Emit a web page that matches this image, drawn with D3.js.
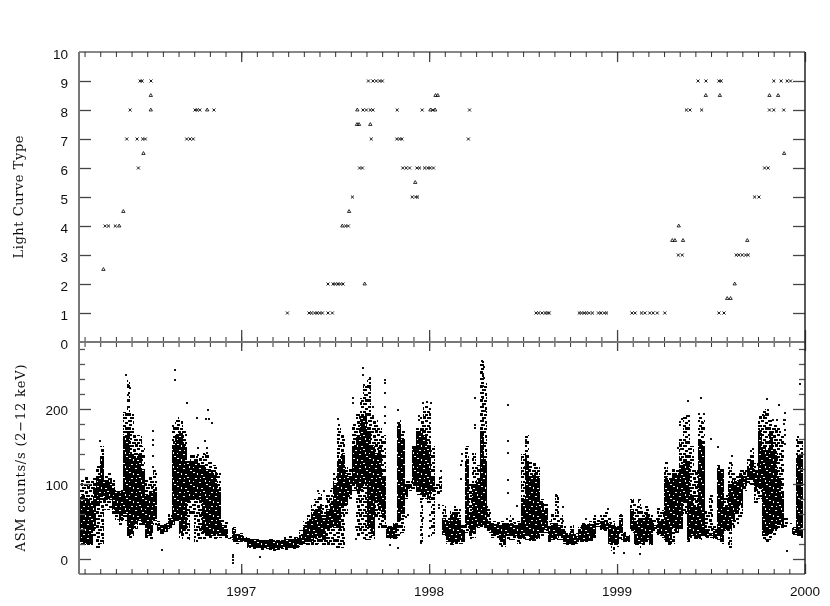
<!DOCTYPE html>
<html>
<head>
<meta charset="utf-8">
<script src="https://cdnjs.cloudflare.com/ajax/libs/d3/7.8.5/d3.min.js"></script>
<style>
html,body{margin:0;padding:0;background:#fff;}
svg{display:block;}
text{font-family:"Liberation Sans",sans-serif;font-size:13.5px;fill:#111;}
.ytitle{font-family:"DejaVu Serif",serif;font-size:13px;}
</style>
</head>
<body>
<svg width="830" height="606"></svg>
<script>
// top panel: light curve type, "x" marks
var crossYears = [1996.276,1996.294,1996.33,1996.453,1996.391,1996.446,1996.476,1996.49,1996.409,1996.462,1996.473,1996.52,
  1996.71,1996.728,1996.745,1996.754,1996.766,1996.78,1996.855,
  1997.246,1997.361,1997.374,1997.391,1997.404,1997.418,1997.432,1997.462,1997.485,
  1997.462,1997.489,1997.501,1997.515,1997.528,1997.542,1997.556,1997.57,1997.592,1997.63,1997.645,
  1997.692,1997.828,1997.843,1997.855,1998.209,1997.648,1997.666,1997.687,1997.701,1997.83,1997.963,1998.02,1998.215,
  1997.677,1997.701,1997.719,1997.737,1997.751,
  1997.86,1997.878,1997.896,1997.935,1997.949,1997.976,1997.993,1998.006,1998.023,1997.91,1997.928,1997.938,
  1998.569,1998.583,1998.601,1998.618,1998.63,1998.639,1998.799,1998.811,1998.825,1998.837,1998.852,1998.869,1998.901,1998.914,1998.932,1998.944,
  1999.079,1999.096,1999.13,1999.148,1999.174,1999.192,1999.214,1999.254,1999.542,1999.569,
  1999.326,1999.347,1999.634,1999.648,1999.666,1999.684,1999.698,1999.732,1999.755,1999.785,1999.804,
  1999.369,1999.388,1999.45,1999.811,1999.834,1999.887,
  1999.431,1999.473,1999.542,1999.554,1999.834,1999.873,1999.905,1999.923];
var crossTypes = [4,4,4,6,7,7,7,7,8,9,9,9,
  7,7,7,8,8,8,8,
  1,1,1,1,1,1,1,1,1,
  2,2,2,2,2,2,4,4,5,6,6,
  7,7,7,7,7,8,8,8,8,8,8,8,8,
  9,9,9,9,9,
  6,6,6,6,6,6,6,6,6,5,5,5,
  1,1,1,1,1,1,1,1,1,1,1,1,1,1,1,1,
  1,1,1,1,1,1,1,1,1,1,
  3,3,3,3,3,3,3,5,5,6,6,
  8,8,8,8,8,8,
  9,9,9,9,9,9,9,9];
// top panel: half types and a few whole ones, "^" marks
var caretYears = [1996.267,1996.351,1996.373,1996.48,1996.519,1996.519,1996.819,
  1997.657,1997.538,1997.574,1997.616,1997.627,1997.687,1997.618,1998.007,1998.032,1998.034,1998.046,1997.926,
  1999.586,1999.604,1999.626,1999.294,1999.308,1999.351,1999.693,1999.328,1999.889,
  1999.472,1999.547,1999.811,1999.857];
var caretTypes = [2.5,4,4.5,6.5,8,8.5,8,
  2,4,4.5,7.5,7.5,7.5,8,8,8,8.5,8.5,5.5,
  1.5,1.5,2,3.5,3.5,3.5,3.5,4,6.5,
  8.5,8.5,8.5,8.5];

var bandYears = [1996.14,1996.16,1996.18,1996.20,1996.22,1996.24,1996.26,1996.28,1996.30,1996.32,
  1996.34,1996.36,1996.38,1996.40,1996.42,1996.44,1996.46,1996.48,1996.50,1996.52,
  1996.54,1996.56,1996.58,1996.60,1996.62,1996.64,1996.66,1996.68,1996.70,1996.72,
  1996.74,1996.76,1996.78,1996.80,1996.82,1996.84,1996.86,1996.88,1996.90,1996.92,
  1996.94,1996.96,1996.98,1997.00,1997.02,1997.04,1997.06,1997.08,1997.10,1997.12,
  1997.14,1997.16,1997.18,1997.20,1997.22,1997.24,1997.26,1997.28,1997.30,1997.32,
  1997.34,1997.36,1997.38,1997.40,1997.42,1997.44,1997.46,1997.48,1997.50,1997.52,
  1997.54,1997.56,1997.58,1997.60,1997.62,1997.64,1997.66,1997.68,1997.70,1997.72,
  1997.74,1997.76,1997.78,1997.80,1997.82,1997.84,1997.86,1997.88,1997.90,1997.92,
  1997.94,1997.96,1997.98,1998.00,1998.02,1998.04,1998.06,1998.08,1998.10,1998.12,
  1998.14,1998.16,1998.18,1998.20,1998.22,1998.24,1998.26,1998.28,1998.30,1998.32,
  1998.34,1998.36,1998.38,1998.40,1998.42,1998.44,1998.46,1998.48,1998.50,1998.52,
  1998.54,1998.56,1998.58,1998.60,1998.62,1998.64,1998.66,1998.68,1998.70,1998.72,
  1998.74,1998.76,1998.78,1998.80,1998.82,1998.84,1998.86,1998.88,1998.90,1998.92,
  1998.94,1998.96,1998.98,1999.00,1999.02,1999.04,1999.06,1999.08,1999.10,1999.12,
  1999.14,1999.16,1999.18,1999.20,1999.22,1999.24,1999.26,1999.28,1999.30,1999.32,
  1999.34,1999.36,1999.38,1999.40,1999.42,1999.44,1999.46,1999.48,1999.50,1999.52,
  1999.54,1999.56,1999.58,1999.60,1999.62,1999.64,1999.66,1999.68,1999.70,1999.72,
  1999.74,1999.76,1999.78,1999.80,1999.82,1999.84,1999.86,1999.88,1999.90,1999.92,
  1999.94,1999.96,1999.98];
var outerHigh = [95,105,110,108,112,125,150,110,115,105,
  92,92,196,238,195,165,165,150,105,110,
  120,50,46,48,60,180,190,185,170,125,
  140,140,135,145,140,130,125,115,55,50,
  30,43,36,34,30,28,27,27,27,27,
  26,26,25,26,27,30,30,30,32,38,
  50,60,72,80,88,72,85,95,115,175,
  165,125,120,180,195,215,230,240,190,185,
  175,165,45,44,50,185,170,105,105,150,
  175,190,205,205,150,100,110,72,60,65,
  70,70,45,150,100,145,125,265,235,70,
  50,50,50,50,55,60,50,50,140,165,
  130,130,125,80,75,50,60,85,60,45,
  35,45,35,42,48,47,50,58,52,58,
  62,55,50,45,60,40,32,80,75,80,
  65,70,60,55,70,65,130,115,120,120,
  160,190,185,150,120,190,185,65,85,45,
  120,120,85,130,115,112,120,118,135,148,
  128,190,200,195,185,180,175,165,55,48,
  43,165,160];
var coreHigh = [80,85,80,75,95,110,135,105,108,95,
  90,90,165,170,140,135,140,120,85,90,
  95,48,45,47,55,150,165,170,150,130,
  130,130,125,125,120,118,112,95,45,40,
  28,40,33,32,28,26,26,25,25,25,
  25,24,24,24,25,27,27,27,28,32,
  45,52,60,65,70,55,65,75,100,130,
  140,115,110,150,165,190,190,170,150,140,
  150,110,42,42,46,180,160,100,100,150,
  170,175,165,150,110,85,85,55,50,60,
  62,55,38,130,60,100,105,170,130,50,
  47,47,45,45,48,48,45,45,80,130,
  110,115,110,75,65,42,48,45,45,40,
  33,40,30,40,45,45,46,50,48,50,
  52,48,45,42,55,35,30,65,50,55,
  55,60,52,45,55,50,110,105,115,115,
  125,130,130,85,70,160,150,40,35,40,
  125,120,70,100,108,104,112,110,124,132,
  118,170,150,145,170,145,110,90,50,48,
  40,135,135];
var coreLow = [22,20,20,20,40,72,82,78,80,65,
  60,50,60,30,32,45,50,45,30,35,
  50,38,35,36,42,45,50,35,40,75,
  82,80,80,35,30,30,32,30,30,30,
  27,25,22,24,24,16,15,14,14,14,
  13,13,12,13,13,14,14,15,15,18,
  20,22,24,28,28,25,40,42,42,40,
  70,70,85,100,90,90,100,40,30,80,
  65,55,28,27,27,50,60,85,95,100,
  90,85,85,80,90,85,85,32,22,20,
  22,25,25,45,30,35,42,45,42,38,
  30,32,25,22,30,30,30,28,28,30,
  25,25,28,35,38,25,25,28,30,22,
  18,20,20,25,24,24,26,30,45,40,
  40,20,18,20,35,25,24,40,20,20,
  20,25,20,40,32,30,25,20,40,35,
  40,75,22,30,28,28,30,28,30,28,
  30,22,38,40,50,62,72,100,105,105,
  90,95,30,32,35,40,45,45,50,48,
  32,32,30];
var outerLow = [20,18,18,18,30,15,20,65,65,60,
  52,44,50,26,28,40,45,45,27,27,
  45,35,33,34,40,45,50,25,30,25,
  60,22,25,25,27,27,27,28,28,28,
  26,22,20,22,23,14,13,13,12,12,
  11,10,10,10,11,12,13,13,14,16,
  18,18,18,18,20,18,18,18,14,12,
  14,60,80,90,30,30,25,25,25,55,
  40,40,26,25,25,28,35,80,90,90,
  85,20,80,75,30,85,85,30,20,18,
  20,20,20,35,25,28,40,42,40,34,
  28,28,18,16,25,25,25,20,25,25,
  24,24,25,30,35,22,25,25,25,20,
  17,18,19,22,22,22,24,28,43,38,
  35,18,10,16,25,20,22,35,18,15,
  18,22,18,35,30,28,22,15,20,35,
  50,60,18,28,26,25,28,26,28,25,
  25,20,35,15,40,45,55,90,100,98,
  75,80,25,22,25,32,40,40,43,46,
  30,30,28];

// lower panel: stray points read one by one
var strayYears = [1996.389,1996.398,1996.407,1996.398,1996.398,1996.398,1996.248,1996.646,1996.646,1996.713,1996.766,1996.58,
  1996.531,1996.531,1996.531,1996.531,1996.531,1996.77,1996.77,
  1996.825,1996.811,1996.828,1996.843,1996.807,1996.818,1996.818,1996.807,
  1996.958,1996.958,1996.958,1996.958,1997.099,1997.409,1997.439,
  1997.648,1997.648,1997.683,1997.651,1997.683,1997.657,1997.595,1997.595,1997.648,
  1997.767,1997.767,1997.767,1997.767,1997.767,1997.767,1997.515,1997.522,1997.7,1997.67,1997.7,
  1997.837,1997.837,1997.966,1998.01,1997.99,1997.948,1997.948,1997.61,1997.61,1997.79,1997.837,1997.885,1997.875,
  1997.965,1998.007,1998.007,1998.007,1998,1997.958,1997.958,1998.064,1998.064,1998.064,
  1998.28,1998.29,1998.285,1998.29,1998.285,1998.29,1998.285,1998.246,1998.285,1998.295,1998.285,1998.29,1998.246,1998.246,
  1998.418,1998.418,1998.418,1998.418,1998.418,1998.517,1998.517,1998.517,1998.517,1998.508,
  1998.209,1998.209,1998.209,1998.209,1998.175,1998.175,1998.17,1998.17,
  1998.675,1998.675,1998.053,1998.05,1998.47,1998.39,
  1998.71,1998.71,1998.953,1998.834,1999.02,1999.117,1999.09,1999.125,
  1999.334,1999.334,1999.348,1999.325,1999.34,1999.038,1999.123,1998.985,
  1999.379,1999.448,1999.37,1999.384,1999.437,1999.46,1999.45,1999.498,1999.539,
  1999.799,1999.861,1999.804,1999.896,1999.896,1999.896,1999.896,1999.896,1999.89,1999.89,
  1999.611,1999.614,1999.976,1999.905,1999.85,1999.78,1999.83];
var strayValues = [245,232,228,219,212,203,157,252,239,208,188,12,
  170,159,152,137,123,148,139,
  199,187,187,181,157,148,141,132,
  5,2,-2,-5,2.5,91,90,
  255,245,241,232,228,219,214,208,210,
  239,234,221,203,190,181,187,179,202,192,190,
  199,181,208,208,209,190,185,43,26,19,14,59,56,
  54,59,50,41,30,32,21,117,108,90,
  264,256,246,241,230,225,214,214,205,197,185,179,179,174,
  205,157,141,105,88,159,154,134,125,123,
  100,90,85,75,140,131,125,107,
  85,72,72,68,70,17,
  69,51,66,53,58,78,72,68,
  179,183,187,148,147,8,6.5,8,
  211,214,190,191,193,193,182,160,149,
  213,205,199,194,185,172,165,153,185,180,
  137,125,233,10,185,190,185];

var monthTicks = d3.range(1996+2/12, 2000.01, 1/12);
var yearTicks = [1997,1998,1999,2000];
var typeTicks = [0,1,2,3,4,5,6,7,8,9,10];
var countTicks = [0,100,200];
var countMinor = [20,40,60,80,120,140,160,180,220,240,260,280];
var speckBlobs = [[0,0,4,2],[5,1,3,3],[9,0,3,2],[13,2,3,2],[1,4,3,2],[6,5,4,2],[11,5,3,2],[0,7,3,3],[4,8,4,2],[9,8,3,2],[13,7,3,3],[2,11,4,2],[7,10,3,3],[11,11,4,2]];
var holeBlobs = [[3,2,2,1],[11,1,2,1],[7,6,2,1],[14,8,2,1],[1,10,2,1],[9,12,2,1],[5,11,1,2],[13,4,1,2],[1,5,1,1],[8,2,1,1]];

var svg = d3.select('svg');
var left = 79, right = 805, top1 = 52, mid = 342, bot = 574;

var x = d3.scaleLinear().domain([1996.137,2000]).range([left,right]);
var yType = d3.scaleLinear().domain([0,10]).range([mid,top1]);
var yCount = d3.scaleLinear().domain([-20,289.3]).range([bot,mid]);

var defs = svg.append('defs');
var blur = defs.append('filter').attr('id','soft').attr('x','-5%').attr('y','-5%').attr('width','110%').attr('height','110%');
blur.append('feGaussianBlur').attr('stdDeviation',0.4);

var speck = defs.append('pattern').attr('id','speck').attr('patternUnits','userSpaceOnUse').attr('width',16).attr('height',14);
speck.selectAll('rect').data(speckBlobs).join('rect')
  .attr('x',d=>d[0]).attr('y',d=>d[1]).attr('width',d=>d[2]).attr('height',d=>d[3]).attr('fill','#000');

var dense = defs.append('pattern').attr('id','dense').attr('patternUnits','userSpaceOnUse').attr('width',16).attr('height',14);
dense.append('rect').attr('width',16).attr('height',14).attr('fill','#000');
dense.selectAll('rect.hole').data(holeBlobs).join('rect').attr('class','hole')
  .attr('x',d=>d[0]).attr('y',d=>d[1]).attr('width',d=>d[2]).attr('height',d=>d[3]).attr('fill','#fff');

// lower panel columns
var cols = d3.range(bandYears.length);
var colW = x(1996.16)-x(1996.14);
var bands = svg.append('g').attr('shape-rendering','crispEdges');
bands.selectAll('rect.outer').data(cols).join('rect').attr('class','outer')
  .attr('x',i=>x(bandYears[i])-colW/2).attr('width',colW)
  .attr('y',i=>yCount(outerHigh[i])).attr('height',i=>yCount(outerLow[i])-yCount(outerHigh[i]))
  .attr('fill','url(#speck)');
bands.selectAll('rect.core').data(cols).join('rect').attr('class','core')
  .attr('x',i=>x(bandYears[i])-colW/2).attr('width',colW)
  .attr('y',i=>yCount(coreHigh[i])).attr('height',i=>yCount(coreLow[i])-yCount(coreHigh[i]))
  .attr('fill','url(#dense)');

svg.append('g').attr('shape-rendering','crispEdges')
  .selectAll('rect').data(strayYears).join('rect')
  .attr('x',(d)=>x(d)-1).attr('y',(d,i)=>yCount(strayValues[i])-1)
  .attr('width',2).attr('height',2).attr('fill','#111');

// top panel marks
var crossPath = d3.symbol().type(d3.symbolTimes).size(7)();
var caretPath = d3.symbol().type(d3.symbolTriangle2).size(8)();
svg.append('g').selectAll('path').data(crossYears).join('path')
  .attr('d',crossPath)
  .attr('transform',(d,i)=>'translate('+x(d)+','+yType(crossTypes[i])+')')
  .attr('fill','none').attr('stroke','#000').attr('stroke-width',0.9);
svg.append('g').selectAll('path').data(caretYears).join('path')
  .attr('d',caretPath)
  .attr('transform',(d,i)=>'translate('+x(d)+','+yType(caretTypes[i])+')')
  .attr('fill','none').attr('stroke','#000').attr('stroke-width',0.8);

// axes, everything ticks inward like the original plot
function noLabels(g){ g.selectAll('text').remove(); g.select('.domain').remove(); }

function xTicks(yPos,axisFn,minorLen,yearLen,col){
  svg.append('g').attr('transform','translate(0,'+yPos+')')
    .call(axisFn(x).tickValues(monthTicks).tickSize(minorLen)).call(noLabels)
    .selectAll('line').attr('stroke',col);
  svg.append('g').attr('transform','translate(0,'+yPos+')')
    .call(axisFn(x).tickValues(yearTicks).tickSize(yearLen)).call(noLabels)
    .selectAll('line').attr('stroke','#444').attr('stroke-width',1.3);
}
xTicks(top1,d3.axisBottom,5,10,'#333');
xTicks(mid,d3.axisTop,5,12,'#333');
xTicks(mid,d3.axisBottom,5,9,'#333');
xTicks(bot,d3.axisTop,5,10,'#333');

function yTicks(xPos,axisFn,scale,vals,len,col){
  svg.append('g').attr('transform','translate('+xPos+',0)')
    .call(axisFn(scale).tickValues(vals).tickSize(len)).call(noLabels)
    .selectAll('line').attr('stroke',col).attr('stroke-width',1.3);
}
yTicks(left,d3.axisRight,yType,typeTicks.slice(1,10),12,'#444');
yTicks(right,d3.axisLeft,yType,typeTicks.slice(1,10),12,'#444');
yTicks(left,d3.axisRight,yCount,countTicks,12,'#444');
yTicks(right,d3.axisLeft,yCount,countTicks,12,'#444');
yTicks(left,d3.axisRight,yCount,countMinor,6,'#555');
yTicks(right,d3.axisLeft,yCount,countMinor,6,'#555');

// frame
svg.append('line').attr('x1',left).attr('x2',right).attr('y1',top1).attr('y2',top1).attr('stroke','#111');
svg.append('line').attr('x1',left).attr('x2',right).attr('y1',bot).attr('y2',bot).attr('stroke','#111');
svg.append('line').attr('x1',left).attr('x2',right).attr('y1',mid).attr('y2',mid).attr('stroke','#777').attr('stroke-width',2);
svg.append('line').attr('x1',left).attr('x2',left).attr('y1',top1).attr('y2',bot).attr('stroke','#777').attr('stroke-width',2);
svg.append('line').attr('x1',right).attr('x2',right).attr('y1',top1).attr('y2',bot).attr('stroke','#222').attr('stroke-width',1.5);

// labels
var labels = svg.append('g').attr('filter','url(#soft)');
labels.selectAll('text.t1').data(typeTicks).join('text').attr('class','t1')
  .attr('x',68).attr('y',d=>yType(d)+6.5).attr('text-anchor','end').text(d=>d);
labels.selectAll('text.t2').data(countTicks).join('text').attr('class','t2')
  .attr('x',68).attr('y',d=>yCount(d)+6.5).attr('text-anchor','end').text(d=>d);
labels.selectAll('text.t3').data(yearTicks).join('text').attr('class','t3')
  .attr('x',d=>x(d)).attr('y',596).attr('text-anchor','middle').text(d=>d);
labels.append('text').attr('class','ytitle')
  .attr('transform','translate(23,197) rotate(-90)').attr('text-anchor','middle')
  .attr('textLength',123).text('Light Curve Type');
labels.append('text').attr('class','ytitle')
  .attr('transform','translate(25,458) rotate(-90)').attr('text-anchor','middle')
  .attr('textLength',187).text('ASM counts/s (2\u221212 keV)');
</script>
</body>
</html>
